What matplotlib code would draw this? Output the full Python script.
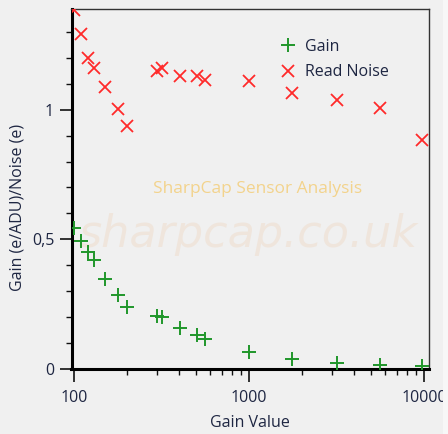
import matplotlib
matplotlib.use("Agg")
import matplotlib.pyplot as plt
from matplotlib.ticker import FixedLocator, FuncFormatter, LogLocator, NullFormatter
from matplotlib.patches import Rectangle

gain_setting = [100, 110, 120, 131, 151, 178, 201, 297, 317, 403, 504, 562, 1000, 1770, 3170, 5610, 9790]
gain_e_adu = [0.545, 0.493, 0.452, 0.420, 0.346, 0.284, 0.240, 0.205, 0.199, 0.157, 0.131, 0.114,
              0.064, 0.037, 0.022, 0.015, 0.013]
read_noise = [1.383, 1.291, 1.201, 1.161, 1.086, 1.001, 0.938, 1.148, 1.159, 1.129, 1.129, 1.116,
              1.111, 1.065, 1.037, 1.005, 0.882]

y_major = [0, 0.5, 1]
y_major_labels = ["0", "0,5", "1"]

BG = "#f0f0f0"
TXT = "#1e2642"
plt.rcParams["font.family"] = ["Open Sans", "DejaVu Sans"]

fig = plt.figure(figsize=(4.48, 4.34), dpi=100, facecolor=BG)
fig.patches.append(Rectangle((443 / 448, 0), 5 / 448, 1, transform=fig.transFigure,
                             facecolor="#f7f7f7", edgecolor="none", zorder=0))
ax = fig.add_axes([71.5 / 448, 65 / 434, (429 - 71.5) / 448, (369 - 9) / 434])
ax.set_facecolor(BG)

ax.set_xscale("log")
ax.set_xlim(96.8, 10680)
ax.set_ylim(0, 1.388)

# watermarks
ax.text(0.495, 0.375, "sharpcap.co.uk", transform=ax.transAxes, ha="center", va="center",
        fontsize=32, color="#efe5dc", style="italic", family="DejaVu Sans", zorder=0)
ax.text(0.52, 0.50, "SharpCap Sensor Analysis", transform=ax.transAxes,
        ha="center", va="center", fontsize=12.5, color="#f3d38c", zorder=0)

ax.plot(gain_setting, gain_e_adu, linestyle="none", marker="+", markersize=10,
        markeredgewidth=1.4, color="#20962a", label="Gain", zorder=3, clip_on=True)
ax.plot(gain_setting, read_noise, linestyle="none", marker="x", markersize=8.5,
        markeredgewidth=1.3, color="#ff2a2a", label="Read Noise", zorder=3, clip_on=True)

ax.yaxis.set_major_locator(FixedLocator(y_major))
ax.yaxis.set_major_formatter(FuncFormatter(lambda v, p: y_major_labels[y_major.index(round(v, 2))]
                                           if round(v, 2) in y_major else ""))
ax.yaxis.set_minor_locator(FixedLocator([i / 10 for i in range(14) if i % 5 != 0]))
ax.xaxis.set_major_locator(LogLocator(base=10, numticks=10))
ax.xaxis.set_major_formatter(FuncFormatter(lambda v, p: f"{int(round(v))}"))
ax.xaxis.set_minor_locator(LogLocator(base=10, subs=range(2, 10), numticks=20))
ax.xaxis.set_minor_formatter(NullFormatter())

ax.tick_params(which="major", direction="out", length=9, width=1.2, colors="#111111",
               labelcolor=TXT, labelsize=11.5)
ax.tick_params(axis="x", which="major", pad=6)
ax.tick_params(which="minor", direction="out", length=4, width=1.0, colors="#111111")

for s in ["left", "bottom"]:
    ax.spines[s].set_linewidth(2.2)
    ax.spines[s].set_color("#000000")
for s in ["top", "right"]:
    ax.spines[s].set_linewidth(1.0)
    ax.spines[s].set_color("#333333")

ax.set_xlabel("Gain Value", color=TXT, fontsize=11.5)
ax.xaxis.set_label_coords(0.5, -0.128)
ax.set_ylabel("Gain (e/ADU)/Noise (e)", color=TXT, fontsize=11.5)
ax.yaxis.set_label_coords(-0.13, 0.45)

leg = ax.legend(loc="upper left", bbox_to_anchor=(0.565, 0.935), frameon=False, fontsize=11.5,
                handlelength=1.0, handletextpad=0.6, labelspacing=0.6, borderaxespad=0)
for t in leg.get_texts():
    t.set_color(TXT)

fig.savefig("out.png", dpi=100, facecolor=BG)
